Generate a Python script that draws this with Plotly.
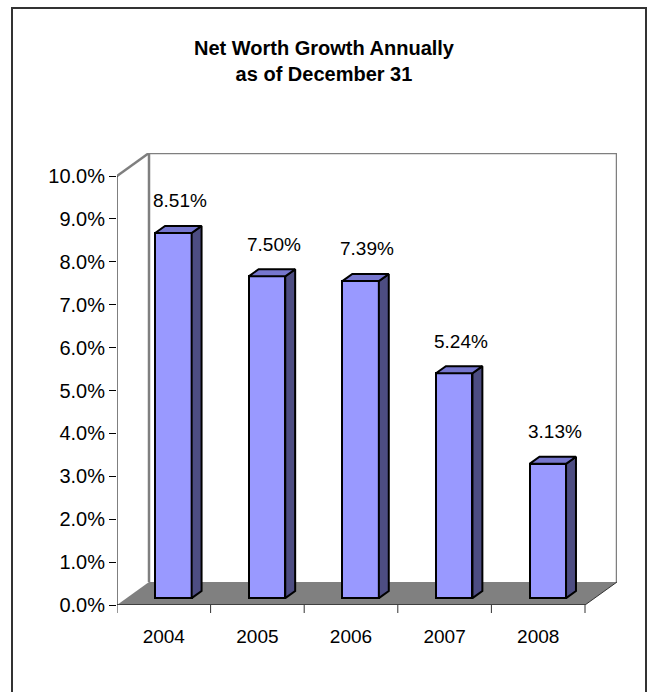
import plotly.graph_objects as go

# Net worth growth per year (percent)
years = ["2004", "2005", "2006", "2007", "2008"]
growth = [8.51, 7.50, 7.39, 5.24, 3.13]
y_ticks = [0, 1, 2, 3, 4, 5, 6, 7, 8, 9, 10]

# Page and plot-area geometry (pixels)
W, H = 648, 692
PL, PR, PT, PB = 117, 617, 153, 605
FRONT_TOP = 176          # pixel row of the 10% gridline on the front plane
DEPTH_PX = (32, 23)      # horizontal / vertical shift of the back plane

n = len(years)
cat_px = (PR - DEPTH_PX[0] - PL) / n
DX = DEPTH_PX[0] / cat_px                     # depth shift in category units
pct_px = (PB - FRONT_TOP) / max(y_ticks)
DY = DEPTH_PX[1] / pct_px                     # depth shift in percent units

F_FRONT, F_BACK = 0.30, 0.61                  # bar depth slice (0 = front, 1 = back)
BAR_W = 0.39

FRONT_C = "#9999FF"
TOP_C = "#7676CE"
SIDE_C = "#4D4D82"
WALL_LINE = "#7F7F7F"
FLOOR_C = "#808080"
FONT = "Liberation Sans, Arial, sans-serif"

x_lo, x_hi = -0.5, n - 0.5 + DX
y_lo, y_hi = 0, max(y_ticks) + DY

fig = go.Figure()

shapes = []
# floor
shapes.append(dict(
    type="path", xref="x", yref="y", layer="below",
    path=f"M {x_lo},0 L {n-0.5},0 L {n-0.5+DX},{DY} L {x_lo+DX},{DY} Z",
    fillcolor=FLOOR_C, line=dict(width=0)))
# back wall outline
shapes.append(dict(
    type="path", xref="x", yref="y", layer="below",
    path=f"M {x_lo+DX},{DY} L {x_lo+DX},{y_hi} L {x_hi},{y_hi} L {x_hi},{DY}",
    line=dict(color=WALL_LINE, width=2.5)))
# side wall top edge
shapes.append(dict(
    type="line", xref="x", yref="y", layer="below",
    x0=x_lo, y0=max(y_ticks), x1=x_lo + DX, y1=y_hi,
    line=dict(color=WALL_LINE, width=2.5)))
# floor right edge
shapes.append(dict(
    type="line", xref="x", yref="y", layer="below",
    x0=n - 0.5, y0=0, x1=n - 0.5 + DX, y1=DY,
    line=dict(color="#333333", width=1)))
# front value axis
shapes.append(dict(
    type="line", xref="x", yref="y",
    x0=x_lo, y0=0, x1=x_lo, y1=max(y_ticks),
    line=dict(color="black", width=1)))
# front category axis
shapes.append(dict(
    type="line", xref="x", yref="y",
    x0=x_lo, y0=0, x1=n - 0.5, y1=0,
    line=dict(color="black", width=1)))
# category boundary ticks
for k in range(n + 1):
    shapes.append(dict(
        type="line", xref="x", yref="paper",
        x0=k - 0.5, x1=k - 0.5, y0=0, y1=-8 / (PB - PT),
        line=dict(color="#333333", width=1)))

# bars: front faces
bx = [i + DX * F_FRONT for i in range(n)]
base = DY * F_FRONT
fig.add_trace(go.Bar(
    x=bx, y=growth, base=[base] * n, width=BAR_W,
    marker=dict(color=FRONT_C, line=dict(color="black", width=2)),
    hoverinfo="skip", showlegend=False))

# bars: side and top faces
ddx = DX * (F_BACK - F_FRONT)
ddy = DY * (F_BACK - F_FRONT)
for i, v in enumerate(growth):
    x0 = bx[i] - BAR_W / 2
    x1 = bx[i] + BAR_W / 2
    yb = base
    yt = base + v
    fig.add_trace(go.Scatter(
        x=[x1, x1, x1 + ddx, x1 + ddx, x1],
        y=[yb, yt, yt + ddy, yb + ddy, yb],
        mode="lines", fill="toself", fillcolor=SIDE_C,
        line=dict(color="black", width=2), hoverinfo="skip", showlegend=False))
    fig.add_trace(go.Scatter(
        x=[x0, x1, x1 + ddx, x0 + ddx, x0],
        y=[yt, yt, yt + ddy, yt + ddy, yt],
        mode="lines", fill="toself", fillcolor=TOP_C,
        line=dict(color="black", width=2), hoverinfo="skip", showlegend=False))

# value labels above each bar
annotations = []
for i, v in enumerate(growth):
    annotations.append(dict(
        x=i + DX * (F_FRONT + F_BACK) / 2 + 0.02, y=v + DY * F_BACK,
        xref="x", yref="y", text=f"{v:.2f}%", showarrow=False,
        yanchor="middle", yshift=25,
        font=dict(family=FONT, size=19, color="black")))

# outer frame
shapes.append(dict(
    type="rect", xref="paper", yref="paper",
    x0=(12 - PL) / (PR - PL), x1=(646 - PL) / (PR - PL),
    y0=(PB - 694) / (PB - PT), y1=(PB - 8) / (PB - PT),
    line=dict(color="#333333", width=2), fillcolor="rgba(0,0,0,0)"))

fig.update_layout(
    width=W, height=H,
    margin=dict(l=PL, r=W - PR, t=PT, b=H - PB, pad=0),
    paper_bgcolor="white", plot_bgcolor="white",
    title=dict(
        text="<b>Net Worth Growth Annually<br>as of December 31</b>",
        x=0.5, xref="container", xanchor="center",
        y=1 - 55 / H, yref="container", yanchor="middle",
        font=dict(family=FONT, size=20, color="black")),
    xaxis=dict(
        range=[x_lo, x_hi], tickvals=list(range(n)), ticktext=years,
        ticks="outside", ticklen=14, tickcolor="rgba(0,0,0,0)",
        showgrid=False, zeroline=False, showline=False, fixedrange=True,
        tickfont=dict(family=FONT, size=19, color="black")),
    yaxis=dict(
        range=[y_lo, y_hi], tickvals=y_ticks,
        ticktext=[f"{t:.1f}%" for t in y_ticks],
        ticks="outside", ticklen=7, tickcolor="black",
        showgrid=False, zeroline=False, showline=False, fixedrange=True,
        tickfont=dict(family=FONT, size=20, color="black")),
    shapes=shapes, annotations=annotations,
    bargap=0,
)

fig.write_html("out.html")
